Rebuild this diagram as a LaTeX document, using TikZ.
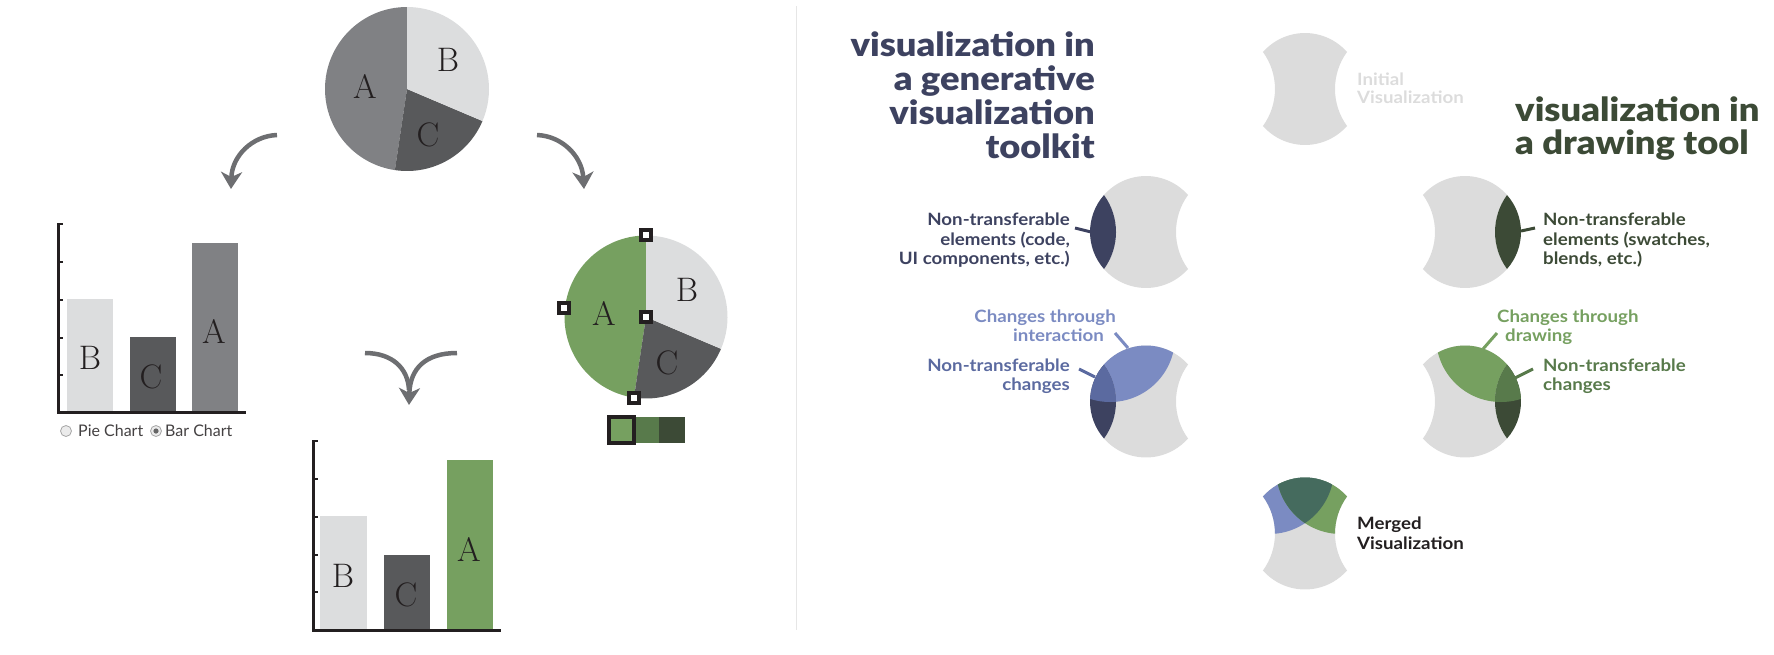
\documentclass[tikz,border=0pt]{standalone}
\usepackage{fontspec}
\usetikzlibrary{arrows.meta}
\newfontfamily\labelfont[FakeStretch=1.1]{Lato}
\newfontfamily\titlefont[FakeStretch=1.1, UprightFont={* Black}]{Lato}
\newfontfamily\uifont{Lato}

\definecolor{pieA}{HTML}{808184}
\definecolor{pieB}{HTML}{DCDDDE}
\definecolor{pieC}{HTML}{58595B}
\definecolor{grn}{HTML}{76A060}
\definecolor{grnmid}{HTML}{587A4B}
\definecolor{grndark}{HTML}{3C4A36}
\definecolor{navy}{HTML}{3D4260}
\definecolor{blu}{HTML}{7B8BC2}
\definecolor{blumid}{HTML}{5B6AA0}
\definecolor{mergeteal}{HTML}{456B5E}
\definecolor{shapegray}{HTML}{DCDCDC}
\definecolor{ink}{HTML}{231F20}
\definecolor{arrowgray}{HTML}{6D6E71}
\definecolor{divider}{HTML}{E6E6E6}

% Set diagrams: middle circle M (r 56) with side circles L and R (r 63,
% centres 93 to either side) and upper circles TB, TG (r 65).
% Body = M without L and R; LLens = M with L; RLens = M with R.
\newcommand\Bodypath{(42,-37) arc[start angle=-41.37, end angle=-138.63, radius=56]
  arc[start angle=-35.96, end angle=35.96, radius=63]
  arc[start angle=138.63, end angle=41.37, radius=56]
  arc[start angle=144.04, end angle=215.96, radius=63] -- cycle}
\newcommand\LLenspath{(-42,-37) arc[start angle=-138.63, end angle=-221.37, radius=56]
  arc[start angle=35.96, end angle=-35.96, radius=63] -- cycle}
\newcommand\RLenspath{(42,-37) arc[start angle=-41.37, end angle=41.37, radius=56]
  arc[start angle=144.04, end angle=215.96, radius=63] -- cycle}
\newcommand\TBpath{(-36,-64.5) circle[radius=65]}
\newcommand\TGpath{(36,-64.5) circle[radius=65]}

% pie with slices A, B, C; #1 = centre, #2 = radius, #3 = colour of A
\newcommand\pie[3]{%
  \fill[#3]  (#1) -- +(-90:#2)    arc[start angle=-90,    end angle=-261.5, radius=#2] -- cycle;
  \fill[pieC] (#1) -- +(-261.5:#2) arc[start angle=-261.5, end angle=-337,   radius=#2] -- cycle;
  \fill[pieB] (#1) -- +(-337:#2)   arc[start angle=-337,   end angle=-450,   radius=#2] -- cycle;}

\tikzset{
  flow/.style={draw=arrowgray, line width=4.5pt, -{Stealth[length=17pt,width=21pt,inset=5pt]}},
  flowplain/.style={draw=arrowgray, line width=4.5pt},
  letter/.style={font=\fontsize{34}{36}\selectfont, text=ink, inner sep=0},
  axis/.style={draw=ink, line width=3pt},
  tick/.style={draw=ink, line width=2.5pt},
  handle/.style={draw=ink, fill=white, line width=4pt, minimum size=10pt, inner sep=0, rectangle},
  lbl/.style={font=\labelfont\bfseries\fontsize{17}{20}\selectfont, inner sep=0},
  ttl/.style={font=\titlefont\fontsize{33}{35}\selectfont, inner sep=0},
  ui/.style={font=\uifont\fontsize{16}{18}\selectfont, text=ink!85, inner sep=0},
  radio/.style={circle, draw=black!35, fill=black!8, line width=0.8pt, minimum size=11pt, inner sep=0},
  leader/.style={line width=3pt},
}

\begin{document}
\begin{tikzpicture}[x=1pt,y=-1pt]
\useasboundingbox (0,0) rectangle (1774,654);

% ---------------- left half: pie, bar chart, drawing tool ----------------
\coordinate (pie1) at (407,89);
\pie{pie1}{82}{pieA}
\node[letter] (pA) at (365,86) {A};
\node[letter] (pB) at (448,60) {B};
\node[letter] (pC) at (428,135) {C};

% arrows out of the pie
\coordinate (a1s) at (277,135); \coordinate (a1e) at (231,189);
\coordinate (a2s) at (537,135); \coordinate (a2e) at (584,189);
\draw[flow] (a1s) .. controls (252,136) and (232,156) .. (a1e);
\draw[flow] (a2s) .. controls (562,136) and (582,156) .. (a2e);

% bar chart with radio buttons
\fill[pieB] (67,299) rectangle (113,411);
\fill[pieC] (130,337) rectangle (176,411);
\fill[pieA] (192,243) rectangle (238,411);
\draw[axis] (58,223) -- (58,412) -- (246,412);
\foreach \t in {224,262,300,338,375} \draw[tick] (58,\t) -- (63,\t);
\node[letter] (bB) at (90,358) {B};
\node[letter] (bC) at (151,377) {C};
\node[letter] (bA) at (214,331) {A};

\node[radio] (r1) at (66,431) {};
\node[ui, anchor=west] (r1t) at (78,431) {Pie Chart};
\node[radio] (r2) at (156,431) {};
\fill[black!60] (r2) circle[radius=2.6];
\node[ui, anchor=west] (r2t) at (165,431) {Bar Chart};

% merging arrow
\coordinate (m1) at (365,353); \coordinate (m2) at (457,353); \coordinate (mt) at (409,405);
\draw[flowplain] (m1) .. controls (392,353) and (408,368) .. (409,390);
\draw[flow] (m2) .. controls (426,353) and (410,368) .. (mt);

% drawing-tool pie with selection handles and swatches
\coordinate (pie2) at (646,317);
\pie{pie2}{81.5}{grn}
\node[letter] (gA) at (604,313) {A};
\node[letter] (gB) at (687,290) {B};
\node[letter] (gC) at (667,363) {C};
\node[handle] (h1) at (646,235) {};
\node[handle] (h2) at (564,308) {};
\node[handle] (h3) at (646,317) {};
\node[handle] (h4) at (634,398) {};
\fill[grnmid] (636,417) rectangle (659,443);
\fill[grndark] (659,417) rectangle (685,443);
\draw[draw=ink, line width=4pt, fill=grn] (609,417) rectangle (634,443);

% merged bar chart
\fill[pieB] (320,516) rectangle (367,629);
\fill[pieC] (384,555) rectangle (430,629);
\fill[grn] (447,460) rectangle (493,629);
\draw[axis] (313,440) -- (313,630) -- (501,630);
\foreach \t in {441,479,517,555,592} \draw[tick] (313,\t) -- (318,\t);
\node[letter] (mB) at (343,576) {B};
\node[letter] (mC) at (406,595) {C};
\node[letter] (mA) at (469,549) {A};

% divider
\draw[divider, line width=1pt] (796,6) -- (796,630);

% ---------------- right half: set diagrams ----------------
% titles
\node[ttl, text=navy, anchor=base east] (tl1) at (1095,56)  {visualization in};
\node[ttl, text=navy, anchor=base east] (tl2) at (1095,90)  {a generative};
\node[ttl, text=navy, anchor=base east] (tl3) at (1095,124) {visualization};
\node[ttl, text=navy, anchor=base east] (tl4) at (1095,158) {toolkit};
\node[ttl, text=grndark, anchor=base west] (tr1) at (1515,121) {visualization in};
\node[ttl, text=grndark, anchor=base west] (tr2) at (1515,154) {a drawing tool};

% initial visualization
\coordinate (vI) at (1305,89);
\fill[shapegray, shift={(vI)}] \Bodypath;
\node[lbl, text=shapegray, anchor=base west] (iI1) at (1357,85) {Initial};
\node[lbl, text=shapegray, anchor=base west] (iI2) at (1357,103) {Visualization};

% toolkit: non-transferable elements
\coordinate (vK1) at (1146,232);
\begin{scope}[shift={(vK1)}]
  \fill[shapegray] \Bodypath;
  \fill[navy] \LLenspath;
\end{scope}
\node[lbl, text=navy, anchor=base east] (k1a) at (1070,225) {Non-transferable};
\node[lbl, text=navy, anchor=base east] (k1b) at (1070,245) {elements (code,};
\node[lbl, text=navy, anchor=base east] (k1c) at (1070,264) {UI components, etc.)};
\coordinate (k1p) at (1075,228); \coordinate (k1q) at (1091,232);
\draw[leader, navy] (k1p) -- (k1q);

% toolkit: changes through interaction
\coordinate (vK2) at (1146,401.5);
\begin{scope}[shift={(vK2)}]
  \fill[shapegray] \Bodypath;
  \fill[navy] \LLenspath;
  \begin{scope}
    \clip \TBpath;
    \fill[blu] \Bodypath;
    \fill[blumid] \LLenspath;
  \end{scope}
\end{scope}
\node[lbl, text=blu, anchor=base east] (k2a) at (1116,322) {Changes through};
\node[lbl, text=blu, anchor=base east] (k2b) at (1104,341) {interaction};
\node[lbl, text=blumid, anchor=base east] (k2c) at (1070,371) {Non-transferable};
\node[lbl, text=blumid, anchor=base east] (k2d) at (1070,390) {changes};
\coordinate (k2p) at (1115,333); \coordinate (k2q) at (1128,348);
\draw[leader, blu] (k2p) -- (k2q);
\coordinate (k2r) at (1079,369); \coordinate (k2s) at (1095,377);
\draw[leader, blumid] (k2r) -- (k2s);

% drawing tool: non-transferable elements
\coordinate (vD1) at (1465,232);
\begin{scope}[shift={(vD1)}]
  \fill[shapegray] \Bodypath;
  \fill[grndark] \RLenspath;
\end{scope}
\node[lbl, text=grndark, anchor=base west] (d1a) at (1543,225) {Non-transferable};
\node[lbl, text=grndark, anchor=base west] (d1b) at (1543,245) {elements (swatches,};
\node[lbl, text=grndark, anchor=base west] (d1c) at (1543,264) {blends, etc.)};
\coordinate (d1p) at (1535,228); \coordinate (d1q) at (1521,231);
\draw[leader, grndark] (d1p) -- (d1q);

% drawing tool: changes through drawing
\coordinate (vD2) at (1465,401.5);
\begin{scope}[shift={(vD2)}]
  \fill[shapegray] \Bodypath;
  \fill[grndark] \RLenspath;
  \begin{scope}
    \clip \TGpath;
    \fill[grn] \Bodypath;
    \fill[grnmid] \RLenspath;
  \end{scope}
\end{scope}
\node[lbl, text=grn, anchor=base west] (d2a) at (1497,322) {Changes through};
\node[lbl, text=grn, anchor=base west] (d2b) at (1505,341) {drawing};
\node[lbl, text=grnmid, anchor=base west] (d2c) at (1543,371) {Non-transferable};
\node[lbl, text=grnmid, anchor=base west] (d2d) at (1543,390) {changes};
\coordinate (d2p) at (1497,333); \coordinate (d2q) at (1483,349);
\draw[leader, grn] (d2p) -- (d2q);
\coordinate (d2r) at (1533,369); \coordinate (d2s) at (1515,378);
\draw[leader, grnmid] (d2r) -- (d2s);

% merged visualization
\coordinate (vM) at (1305,533.5);
\begin{scope}[shift={(vM)}]
  \fill[shapegray] \Bodypath;
  \begin{scope}
    \clip \TBpath;
    \fill[blu] \Bodypath;
  \end{scope}
  \begin{scope}
    \clip \TGpath;
    \fill[grn] \Bodypath;
    \clip \TBpath;
    \fill[mergeteal] \Bodypath;
  \end{scope}
\end{scope}
\node[lbl, text=ink, anchor=base west] (mg1) at (1357,529) {Merged};
\node[lbl, text=ink, anchor=base west] (mg2) at (1357,549) {Visualization};
\end{tikzpicture}
\end{document}
